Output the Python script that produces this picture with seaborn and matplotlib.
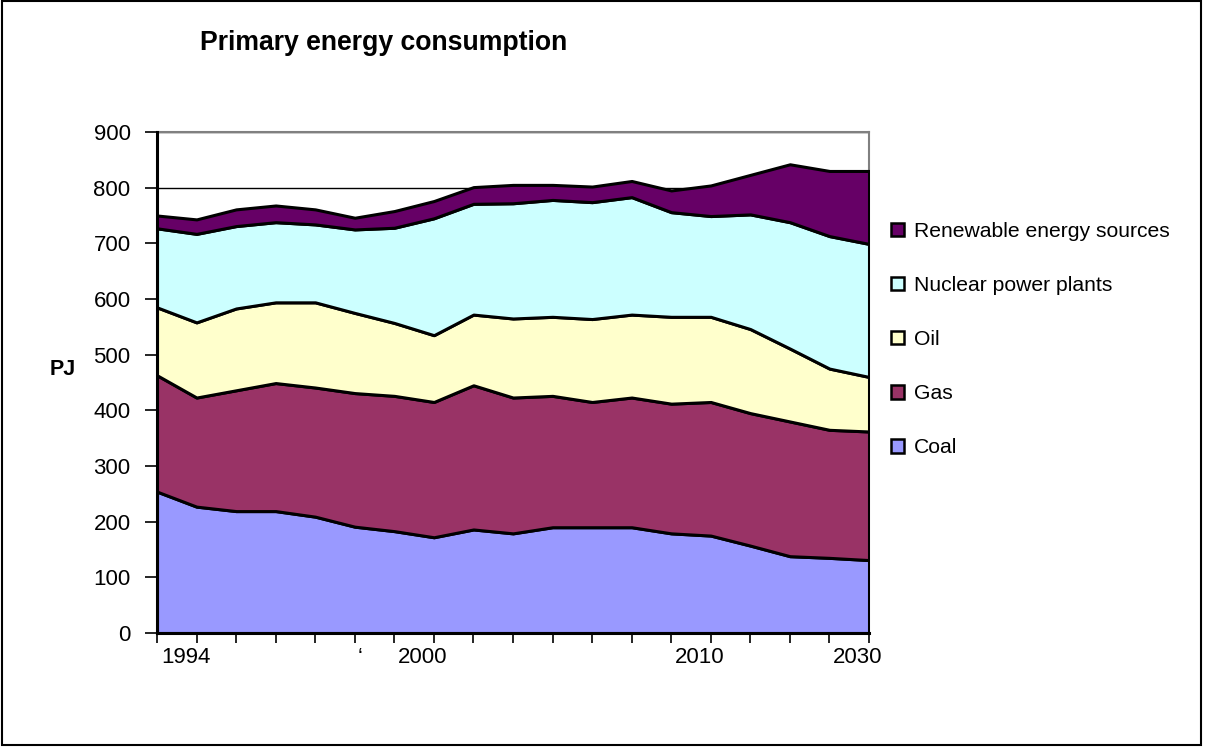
import matplotlib
matplotlib.use("Agg")
import matplotlib.pyplot as plt
import matplotlib.transforms as mtransforms
from matplotlib.patches import Rectangle
import seaborn as sns
import numpy as np

# ---------------- data (PJ) ----------------
x_labels = ["", "1994", "", "", "", "\u2018", "", "2000", "", "", "", "", "", "",
            "2010", "", "", "", "2030"]
series_names = ["Coal", "Gas", "Oil", "Nuclear power plants", "Renewable energy sources"]
coal = [254, 227, 219, 219, 209, 191, 183, 172, 186, 179, 190, 190, 190, 179, 175, 157, 138, 135, 131]
gas = [209, 196, 217, 230, 232, 240, 243, 243, 259, 244, 236, 225, 233, 233, 240, 238, 242, 230, 231]
oil = [122, 135, 147, 145, 153, 144, 131, 120, 127, 142, 142, 149, 149, 156, 153, 151, 131, 110, 98]
nuclear = [142, 159, 148, 144, 140, 150, 171, 210, 199, 207, 210, 210, 211, 188, 181, 206, 227, 238, 239]
renewable = [23, 26, 30, 30, 27, 21, 30, 31, 30, 33, 27, 28, 29, 39, 55, 71, 104, 117, 131]
colors = ["#9999FF", "#993366", "#FFFFCC", "#CCFFFF", "#660066"]
y_ticks = [0, 100, 200, 300, 400, 500, 600, 700, 800, 900]

sns.set_theme(style="white")
plt.rcParams["font.family"] = ["Liberation Sans", "DejaVu Sans"]
plt.rcParams["text.color"] = "black"

W, H = 1215, 747
fig = plt.figure(figsize=(W / 100, H / 100), dpi=100)
fig.patch.set_facecolor("white")
ax = fig.add_axes([157 / W, 1 - 633 / H, (869 - 157) / W, (633 - 132) / H])
ax.set_facecolor("white")

xs = np.arange(len(coal))
ax.stackplot(xs, coal, gas, oil, nuclear, renewable, colors=colors,
             edgecolor="black", linewidth=2.2, zorder=3)

ax.set_xlim(0, len(coal) - 1)
ax.set_ylim(0, 900)
ax.set_yticks(y_ticks)
ax.set_yticklabels([str(v) for v in y_ticks], fontsize=16)
ax.grid(axis="y", color="black", linewidth=1.0, zorder=0)
ax.grid(axis="x", visible=False)
ax.set_axisbelow(True)

ax.set_xticks(xs)
ax.set_xticklabels(x_labels, fontsize=16)
ax.tick_params(axis="x", bottom=True, direction="out", length=7, width=1.2,
               color="black", labelcolor="black", pad=3)
ax.tick_params(axis="y", left=True, direction="out", length=9, width=1.2,
               color="black", labelcolor="black", pad=10)
for lab in ax.get_xticklabels():
    dx = 5 if lab.get_text() == "\u2018" else -11
    lab.set_transform(lab.get_transform() + mtransforms.ScaledTranslation(dx / 100, 0, fig.dpi_scale_trans))

for side in ["left", "bottom"]:
    ax.spines[side].set_color("black")
    ax.spines[side].set_linewidth(2.2)
    ax.spines[side].set_zorder(5)
for side in ["top", "right"]:
    ax.spines[side].set_color("#808080")
    ax.spines[side].set_linewidth(1.5)

# title and axis label
fig.text(200 / W, 1 - 50 / H, "Primary energy consumption", fontsize=19.2,
         fontweight="bold", ha="left", va="baseline", color="black")
fig.text(76 / W, 1 - 375 / H, "PJ", fontsize=15.5, fontweight="bold",
         ha="right", va="baseline", color="black")

# legend (reverse order like Excel)
handles = [Rectangle((0, 0), 1, 1, facecolor=c, edgecolor="black", linewidth=1.8)
           for c in colors][::-1]
leg = fig.legend(handles, series_names[::-1], loc="upper left",
                 bbox_to_anchor=(891 / W, 1 - 222 / H), frameon=False, fontsize=15.2,
                 handlelength=0.62, handleheight=0.62, handletextpad=0.45,
                 labelspacing=1.66, borderpad=0, borderaxespad=0)
for t in leg.get_texts():
    t.set_color("black")

# outer chart frame
fig.add_artist(Rectangle((2 / W, 1 - 745 / H), (1201 - 2) / W, (745 - 1) / H,
                         transform=fig.transFigure, fill=False,
                         edgecolor="black", linewidth=1.5))

fig.savefig("out.png", dpi=100)
